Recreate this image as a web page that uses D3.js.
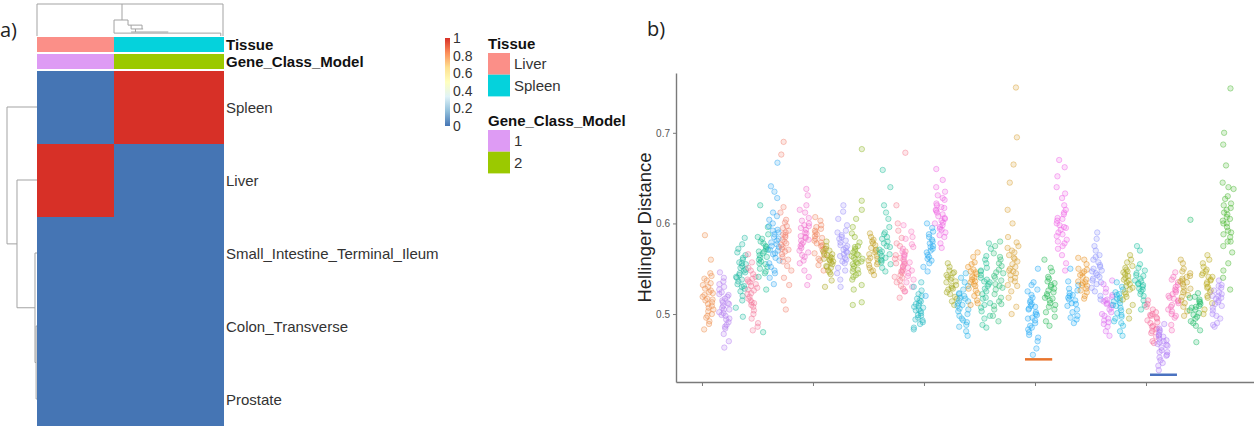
<!DOCTYPE html>
<html>
<head>
<meta charset="utf-8">
<script src="https://cdn.jsdelivr.net/npm/d3@7"></script>
<style>
  body { margin: 0; background: #fff; }
  svg { display: block; font-family: "Liberation Sans", Arial, sans-serif; }
</style>
</head>
<body>
<svg id="fig" width="1254" height="426"></svg>
<script>
// ---------- panel a data ----------
const heatRows = ["Spleen", "Liver", "Small_Intestine_Terminal_Ileum", "Colon_Transverse", "Prostate"];
const sampleTissue = ["Liver","Liver","Liver","Liver","Liver","Liver","Liver",
  "Spleen","Spleen","Spleen","Spleen","Spleen","Spleen","Spleen","Spleen","Spleen","Spleen"];
const sampleClass = ["1","1","1","1","1","1","1","2","2","2","2","2","2","2","2","2","2"];
const heatValues = [
  [0,0,0,0,0,0,0,1,1,1,1,1,1,1,1,1,1],
  [1,1,1,1,1,1,1,0,0,0,0,0,0,0,0,0,0],
  [0,0,0,0,0,0,0,0,0,0,0,0,0,0,0,0,0],
  [0,0,0,0,0,0,0,0,0,0,0,0,0,0,0,0,0],
  [0,0,0,0,0,0,0,0,0,0,0,0,0,0,0,0,0]
];
const heatPalette = ["#4575B4", "#91BFDB", "#E0F3F8", "#FFFFBF", "#FEE090", "#FC8D59", "#D73027"];
const legendTicks = [0, 0.2, 0.4, 0.6, 0.8, 1];
const tissueLevels = ["Liver", "Spleen"];
const tissueColors = ["#FB8F88", "#05D2DC"];
const classLevels = ["1", "2"];
const classColors = ["#DE9BF4", "#9BC900"];
// row clustering, hclust style: negative = leaf (1-based row), positive = earlier merge
const rowMerge = [[-4, -5], [-3, 1], [-2, 2], [-1, 3]];
const rowMergeHeight = [0.03, 0.067, 0.667, 1];
// column dendrogram segments [col1, h1, col2, h2]
const colTreeSegs = [
  [0, 1, 17, 1], [0, 1, 0, 0], [17, 1, 17, 0], [7.77, 1, 7.77, 0.5],
  [7.04, 0.5, 8.32, 0.5], [7.04, 0.5, 7.04, 0.09], [8.32, 0.5, 8.32, 0.34],
  [8.32, 0.34, 9.6, 0.34], [8.6, 0.34, 8.6, 0.22], [9.6, 0.34, 9.6, 0.22],
  [8.6, 0.22, 9.7, 0.22], [9.0, 0.22, 9.0, 0.125], [8.6, 0.125, 12, 0.125],
  [7.04, 0.09, 16.8, 0.09], [16.8, 0.09, 16.8, 0]
];

// ---------- panel b data ----------
const yTicks = [0.5, 0.6, 0.7];
const xTicks = [1, 2, 3, 4, 5];
const groupPos = [1.054, 1.198, 1.351, 1.459, 1.550, 1.649, 1.757, 1.919, 2.054, 2.135,
  2.261, 2.396, 2.541, 2.649, 2.784, 2.856, 2.946, 3.036, 3.144, 3.252,
  3.351, 3.441, 3.559, 3.667, 3.802, 3.982, 4.135, 4.243, 4.342, 4.432,
  4.559, 4.649, 4.748, 4.838, 4.946, 5.054, 5.144, 5.243, 5.351, 5.441,
  5.550, 5.649, 5.739];
const groupColors = ["#EE9050", "#B47EF0", "#1DB8A2", "#F4799C", "#17BC92", "#2EA6F2", "#F2806E",
  "#F06ACB", "#F0845E", "#A8A619", "#9A8EF8", "#8EB524", "#C4A024", "#22BF9C", "#F67B8F",
  "#F879C2", "#22B7C2", "#25A9F2", "#EE63E2", "#A3A820", "#22B1E8", "#E8921E", "#1FC092",
  "#2EBF7A", "#D9A135", "#22A8F6", "#24B855", "#EF63E6", "#1AA9F6", "#E8911E", "#8A91FC",
  "#DD6CF2", "#1DB7E2", "#AAA81A", "#19C0A2", "#F7699A", "#B07AF6", "#F769BA", "#C2A022",
  "#1BBA63", "#B8A91A", "#AE88F8", "#4CB833"];
const groupValues = [
  [.521,.534,.507,.498,.515,.542,.526,.511,.503,.530,.519,.489,.524,.537,.509,.496,.517,.528,.505,.545,.513,.500,.532,.492,.523,.587,.560,.483,.516,.539],
  [.512,.498,.527,.505,.519,.488,.533,.509,.495,.521,.478,.515,.540,.502,.491,.524,.507,.484,.517,.530,.499,.470,.511,.546,.494,.522,.505,.463,.513,.486,.536,.501],
  [.545,.562,.531,.553,.577,.540,.525,.556,.568,.536,.549,.515,.560,.584,.543,.528,.551,.572,.538,.507,.557,.546,.533,.565,.520,.548,.541,.497,.555,.530],
  [.526,.541,.512,.533,.504,.548,.519,.536,.495,.529,.557,.515,.522,.538,.500,.544,.510,.531,.566,.517,.490,.527,.535,.508,.482,.523,.551,.513,.486,.539],
  [.565,.578,.552,.571,.560,.588,.547,.569,.556,.583,.574,.541,.563,.596,.558,.567,.550,.580,.562,.575,.545,.620,.527,.480,.569,.555,.585,.572],
  [.575,.590,.562,.583,.604,.571,.556,.597,.579,.548,.588,.566,.612,.574,.540,.593,.581,.559,.628,.570,.545,.600,.585,.533,.577,.641,.567,.592,.552,.667,.635,.608],
  [.582,.571,.595,.563,.588,.576,.604,.558,.590,.569,.612,.580,.548,.597,.574,.585,.560,.601,.566,.592,.553,.618,.578,.540,.587,.572,.676,.690,.515,.505,.532],
  [.590,.577,.603,.584,.568,.612,.595,.581,.559,.598,.573,.620,.586,.563,.606,.589,.548,.579,.631,.593,.570,.600,.541,.585,.615,.575,.556,.638,.582,.597,.565,.532],
  [.584,.572,.596,.579,.561,.590,.576,.603,.567,.586,.554,.581,.598,.571,.588,.548,.578,.607,.565,.583,.592,.575,.559,.594],
  [.562,.555,.570,.548,.566,.558,.575,.551,.563,.544,.569,.560,.553,.580,.557,.546,.565,.537,.561,.572,.552,.530,.567,.559],
  [.576,.562,.590,.569,.583,.551,.598,.573,.560,.587,.545,.579,.566,.605,.571,.556,.592,.538,.581,.568,.613,.564,.548,.585,.530,.575,.620,.558],
  [.562,.550,.575,.557,.568,.543,.585,.560,.553,.572,.538,.565,.596,.555,.547,.579,.561,.532,.570,.589,.549,.558,.605,.541,.566,.527,.574,.556,.615,.545,.564,.682,.513,.510,.625],
  [.562,.571,.554,.580,.566,.548,.576,.559,.585,.564,.551,.573,.557,.589,.568,.543,.578,.561,.555,.582,.570,.547],
  [.566,.578,.555,.588,.571,.560,.596,.575,.551,.583,.567,.605,.562,.590,.557,.574,.547,.612,.580,.569,.559,.585,.620,.564,.659,.640],
  [.552,.540,.565,.531,.558,.546,.575,.537,.561,.525,.549,.584,.543,.569,.528,.556,.592,.535,.562,.518,.547,.578,.541,.600,.620,.678,.555],
  [.556,.569,.545,.577,.560,.538,.583,.551,.566,.530,.572,.557,.591,.542,.563,.548,.598,.535,.574,.553,.525,.565,.585,.548],
  [.505,.496,.514,.489,.508,.520,.499,.511,.485,.503,.526,.494,.509,.517,.491,.501,.530,.507,.483,.512,.498,.522,.504,.515,.493,.535],
  [.570,.582,.559,.575,.591,.565,.552,.578,.600,.568,.556,.585,.572,.547,.595,.563,.580,.520,.574,.588,.561],
  [.605,.618,.593,.626,.600,.612,.585,.631,.608,.596,.640,.614,.590,.622,.603,.578,.635,.610,.598,.648,.620,.587,.606,.628,.615,.573,.601,.660,.594,.617],
  [.535,.546,.524,.541,.529,.552,.519,.538,.531,.548,.514,.543,.527,.556,.522,.536,.510,.545,.532,.540,.528,.517],
  [.512,.500,.523,.493,.517,.506,.531,.488,.514,.498,.540,.509,.481,.520,.503,.527,.495,.515,.476,.510,.535,.491,.505,.545,.518,.486,.522],
  [.538,.549,.526,.544,.531,.557,.520,.540,.535,.563,.515,.546,.528,.552,.512,.541,.533,.568,.523,.547,.536,.510,.555],
  [.535,.522,.551,.510,.543,.528,.564,.503,.538,.517,.556,.495,.547,.531,.572,.512,.540,.488,.525,.560,.533,.498,.548,.518,.578,.485,.536,.507],
  [.540,.527,.556,.514,.545,.533,.567,.505,.549,.522,.575,.537,.511,.560,.498,.542,.529,.553,.518,.580,.492,.546,.531,.563,.509],
  [.552,.565,.540,.573,.547,.558,.531,.579,.561,.545,.585,.536,.568,.550,.525,.562,.543,.575,.518,.555,.508,.570,.538,.548,.500,.600,.615,.645,.665,.695,.750,.532],
  [.502,.490,.515,.483,.508,.496,.525,.477,.511,.499,.532,.487,.505,.470,.518,.493,.527,.480,.509,.462,.500,.521,.485,.513,.495,.535,.474,.506,.455,.550],
  [.520,.532,.510,.526,.541,.505,.522,.536,.497,.515,.547,.528,.502,.518,.539,.492,.524,.512,.551,.530,.487,.517,.534,.508,.560],
  [.600,.588,.615,.575,.606,.593,.628,.582,.610,.565,.598,.640,.586,.620,.572,.603,.595,.652,.580,.612,.556,.590,.633,.548,.605,.670,.578,.662,.596],
  [.516,.505,.526,.498,.520,.511,.532,.494,.515,.523,.502,.536,.509,.518,.496,.528,.512,.550,.490,.521],
  [.535,.545,.526,.550,.531,.541,.520,.555,.536,.528,.547,.517,.538,.560,.532,.543,.524,.549,.534,.562],
  [.545,.557,.533,.563,.541,.550,.525,.570,.548,.537,.575,.543,.554,.520,.560,.539,.583,.529,.552,.547,.516,.565,.535,.590],
  [.510,.498,.521,.491,.514,.505,.528,.486,.516,.502,.533,.495,.512,.481,.519,.507,.537,.489,.511,.476,.524,.500,.515,.493],
  [.510,.499,.522,.492,.514,.504,.530,.487,.517,.501,.535,.495,.512,.481,.521,.507,.527,.490,.515,.476,.509,.524,.497,.518],
  [.535,.547,.524,.553,.531,.542,.516,.560,.537,.527,.549,.510,.540,.565,.522,.544,.533,.503,.551,.529,.538,.495,.546,.557,.519],
  [.530,.542,.520,.536,.548,.525,.533,.555,.515,.539,.528,.545,.510,.532,.551,.522,.537,.505,.543,.527,.570,.575,.534],
  [.490,.502,.481,.495,.508,.486,.498,.475,.493,.511,.484,.500,.470,.491,.505,.479,.496,.515,.487,.468,.499,.483],
  [.465,.477,.455,.470,.484,.460,.473,.449,.467,.489,.458,.475,.443,.469,.480,.452,.463,.438,.471,.458,.482,.446,.466,.476,.454],
  [.515,.527,.503,.520,.535,.508,.524,.496,.517,.541,.505,.530,.512,.488,.522,.546,.510,.482,.526,.500,.518,.538,.514,.498,.532],
  [.530,.542,.521,.536,.550,.515,.533,.545,.508,.539,.526,.556,.519,.535,.503,.547,.528,.541,.512,.560,.524,.498,.537],
  [.505,.514,.497,.509,.519,.492,.507,.501,.516,.487,.511,.523,.495,.504,.482,.513,.499,.508,.469,.518,.490,.604],
  [.535,.547,.526,.541,.556,.520,.538,.530,.552,.512,.543,.533,.560,.524,.545,.505,.537,.549,.518,.565,.529,.541,.500],
  [.515,.526,.507,.520,.532,.500,.517,.511,.529,.495,.522,.537,.504,.518,.490,.524,.513,.531,.486,.509,.520,.498,.488],
  [.600,.615,.588,.627,.605,.580,.620,.596,.638,.610,.575,.592,.630,.603,.568,.645,.612,.585,.622,.556,.600,.640,.548,.617,.590,.540,.607,.527,.687,.749,.664,.700,.580]
];
// highlighted ranges under the points
const markLines = [
  { x0: 3.91, x1: 4.155, y: 0.450, color: "#E8742C" },
  { x0: 5.036, x1: 5.279, y: 0.433, color: "#4A72C0" }
];

const svg = d3.select("#fig");
const treeGrey = "#a3a3a3";

// ================= panel a: heatmap =================
const colX = d3.scaleBand().domain(d3.range(sampleTissue.length)).range([37, 223]);
const rowY = d3.scaleBand().domain(heatRows).range([70.5, 435.5]);
const heatColor = d3.scaleLinear().domain(d3.range(7).map(i => i / 6)).range(heatPalette);

const cells = [];
heatRows.forEach((r, i) => heatValues[i].forEach((v, j) => cells.push({ r, j, v })));

svg.append("g").attr("shape-rendering", "crispEdges")
  .selectAll("rect").data(cells).join("rect")
  .attr("x", d => colX(d.j))
  .attr("y", d => rowY(d.r))
  .attr("width", colX.bandwidth() + 1)
  .attr("height", rowY.bandwidth() + 0.4)
  .attr("fill", d => heatColor(d.v));

// annotation bars
const annY = d3.scaleBand().domain(["Tissue", "Gene_Class_Model"]).range([37.3, 69.3]).paddingInner(0.1);
const tissueColor = d3.scaleOrdinal(tissueLevels, tissueColors);
const classColor = d3.scaleOrdinal(classLevels, classColors);
const ann = svg.append("g");
ann.selectAll("rect.t").data(sampleTissue).join("rect").attr("class", "t")
  .attr("shape-rendering", "crispEdges")
  .attr("x", (d, i) => colX(i)).attr("y", annY("Tissue"))
  .attr("width", colX.bandwidth() + 1).attr("height", annY.bandwidth())
  .attr("fill", d => tissueColor(d));
ann.selectAll("rect.c").data(sampleClass).join("rect").attr("class", "c")
  .attr("shape-rendering", "crispEdges")
  .attr("x", (d, i) => colX(i)).attr("y", annY("Gene_Class_Model"))
  .attr("width", colX.bandwidth() + 1).attr("height", annY.bandwidth())
  .attr("fill", d => classColor(d));
ann.selectAll("text").data(annY.domain()).join("text")
  .attr("x", 226).attr("y", d => annY(d) + annY.bandwidth() / 2)
  .attr("dominant-baseline", "central")
  .attr("font-size", 15).attr("font-weight", "bold").attr("fill", "#111")
  .text(d => d);

// row labels
svg.append("g").selectAll("text").data(heatRows).join("text")
  .attr("x", 226).attr("y", d => rowY(d) + rowY.bandwidth() / 2)
  .attr("dominant-baseline", "central")
  .attr("font-size", 15).attr("fill", "#333")
  .text(d => d);

// row dendrogram
const treeX = d3.scaleLinear().domain([0, 1]).range([37, 7]);
const rowCenter = i => rowY(heatRows[i]) + rowY.bandwidth() / 2;
const nodes = [];
const nodeOf = k => k < 0 ? { y: rowCenter(-k - 1), h: 0 } : nodes[k - 1];
const rowTree = svg.append("g").attr("fill", "none").attr("stroke", treeGrey).attr("stroke-width", 1);
rowMerge.forEach(([a, b], k) => {
  const na = nodeOf(a), nb = nodeOf(b), h = rowMergeHeight[k];
  nodes.push({ y: (na.y + nb.y) / 2, h });
  const p = d3.path();
  p.moveTo(treeX(na.h), na.y); p.lineTo(treeX(h), na.y);
  p.lineTo(treeX(h), nb.y); p.lineTo(treeX(nb.h), nb.y);
  rowTree.append("path").attr("d", p.toString());
});

// column dendrogram
const colPos = d3.scaleLinear().domain([0, 17]).range([37, 223]);
const colH = d3.scaleLinear().domain([0, 1]).range([36, 4]);
svg.append("g").attr("stroke", treeGrey).attr("stroke-width", 1)
  .selectAll("line").data(colTreeSegs).join("line")
  .attr("x1", d => colPos(d[0])).attr("y1", d => colH(d[1]))
  .attr("x2", d => colPos(d[2])).attr("y2", d => colH(d[3]));

// colour key
const defs = svg.append("defs");
const grad = defs.append("linearGradient").attr("id", "heatGrad")
  .attr("x1", 0).attr("y1", 1).attr("x2", 0).attr("y2", 0);
grad.selectAll("stop").data(heatPalette).join("stop")
  .attr("offset", (d, i) => i / (heatPalette.length - 1))
  .attr("stop-color", d => d);
const keyY = d3.scaleLinear().domain([0, 1]).range([126, 38]);
svg.append("rect").attr("x", 445).attr("y", keyY(1)).attr("width", 5)
  .attr("height", keyY(0) - keyY(1)).attr("fill", "url(#heatGrad)");
svg.append("g").selectAll("text").data(legendTicks).join("text")
  .attr("x", 453).attr("y", d => keyY(d)).attr("dominant-baseline", "central")
  .attr("font-size", 14).attr("fill", "#333").text(d => d);

// annotation legends
function annLegend(title, titleY, levels, colorFn, top) {
  const ly = d3.scaleBand().domain(levels).range([top, top + levels.length * 21.7]);
  const g = svg.append("g");
  g.append("text").attr("x", 488).attr("y", titleY).attr("dominant-baseline", "central")
    .attr("font-size", 15).attr("font-weight", "bold").attr("fill", "#111").text(title);
  g.selectAll("rect").data(levels).join("rect")
    .attr("x", 488).attr("y", d => ly(d)).attr("width", 22).attr("height", ly.bandwidth())
    .attr("fill", d => colorFn(d));
  g.selectAll("text.l").data(levels).join("text").attr("class", "l")
    .attr("x", 514).attr("y", d => ly(d) + ly.bandwidth() / 2).attr("dominant-baseline", "central")
    .attr("font-size", 15).attr("fill", "#333").text(d => d);
}
annLegend("Tissue", 43, tissueLevels, tissueColor, 53);
annLegend("Gene_Class_Model", 120, classLevels, classColor, 130);

// ================= panel b: strip plot =================
const x = d3.scaleLinear().domain([0.766, 5.973]).range([676, 1254]);
const y = d3.scaleLinear().domain([0.425, 0.766]).range([382, 73]);
// deterministic horizontal jitter (layout only, like geom_jitter)
const jitter = i => {
  const s = Math.sin(i * 12.9898 + 78.233) * 43758.5453;
  return (s - Math.floor(s) - 0.5) * 0.1;
};

const pts = [];
groupValues.forEach((vals, g) => vals.forEach((v, i) =>
  pts.push({ x: groupPos[g] + jitter(i + g * 41), v, c: groupColors[g] })));

svg.append("g").selectAll("circle").data(pts).join("circle")
  .attr("cx", d => x(d.x)).attr("cy", d => y(d.v)).attr("r", 2.7)
  .attr("fill", d => d.c).attr("fill-opacity", 0.2)
  .attr("stroke", d => d.c).attr("stroke-opacity", 0.5).attr("stroke-width", 0.9);

svg.append("g").selectAll("line").data(markLines).join("line")
  .attr("x1", d => x(d.x0)).attr("x2", d => x(d.x1))
  .attr("y1", d => y(d.y)).attr("y2", d => y(d.y))
  .attr("stroke", d => d.color).attr("stroke-width", 2.5);

const yAxis = svg.append("g").attr("transform", "translate(676,0)")
  .call(d3.axisLeft(y).tickValues(yTicks).tickSize(3).tickSizeOuter(0).tickPadding(3).tickFormat(d3.format(".1f")));
const xAxis = svg.append("g").attr("transform", "translate(0,382)")
  .call(d3.axisBottom(x).tickValues(xTicks).tickSize(4).tickSizeOuter(0).tickFormat(""));
[yAxis, xAxis].forEach(a => {
  a.select(".domain").attr("stroke", "#7a7a7a").attr("stroke-width", 1.4);
  a.selectAll(".tick line").attr("stroke", "#7a7a7a");
  a.selectAll(".tick text").attr("fill", "#555").attr("font-size", 10)
    .attr("font-family", "Liberation Sans, Arial, sans-serif");
});

svg.append("text").attr("transform", "translate(651,227.5) rotate(-90)")
  .attr("text-anchor", "middle").attr("font-size", 18.5).attr("fill", "#222")
  .text("Hellinger Distance");

// panel tags
svg.append("text").attr("x", 0).attr("y", 37).attr("font-family", "Open Sans, sans-serif")
  .attr("font-size", 20).attr("fill", "#222").text("a)");
svg.append("text").attr("x", 647).attr("y", 36).attr("font-family", "Open Sans, sans-serif")
  .attr("font-size", 20).attr("fill", "#222").text("b)");
</script>
</body>
</html>
